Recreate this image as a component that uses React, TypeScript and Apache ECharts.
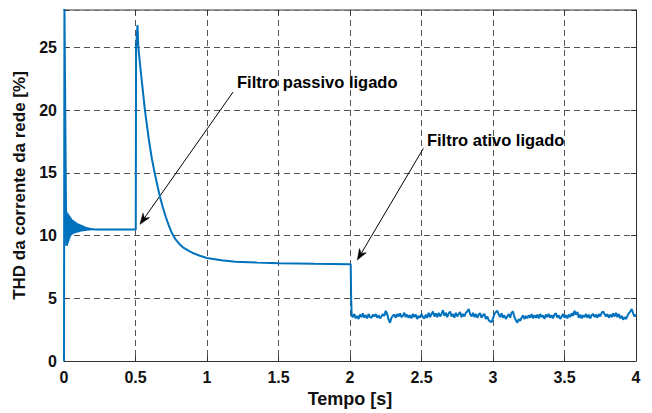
import React, { useEffect, useRef } from "react";
import * as echarts from "echarts";

// ---- data ----
const xTicks = [0, 0.5, 1, 1.5, 2, 2.5, 3, 3.5, 4];
const yTicks = [0, 5, 10, 15, 20, 25];

// start-up spike
const startupT = [0, 0.003, 0.016];
const startupV = [0, 28.5, 9.2];

// start-up ripple (alternating upper / lower swings)
const rippleStart = 0.018;
const rippleHalfStep = 0.003;
const rippleTop = [11.9, 11.8, 11.7, 11.6, 11.5, 11.4, 11.3, 11.25, 11.2, 11.15, 11.1, 11.05, 11.0, 10.97, 10.94, 10.91, 10.88, 10.85, 10.82, 10.79, 10.76, 10.73, 10.7, 10.68, 10.66, 10.64, 10.62, 10.6, 10.59, 10.58, 10.57, 10.56];
const rippleBottom = [9.2, 9.4, 9.6, 9.8, 9.95, 10.05, 10.1, 10.15, 10.18, 10.2, 10.22, 10.24, 10.26, 10.28, 10.3, 10.32, 10.33, 10.34, 10.35, 10.36, 10.37, 10.38, 10.39, 10.4, 10.41, 10.42, 10.43, 10.44, 10.45, 10.46, 10.47, 10.48];

// plateau, passive filter switching and decay
const decayT = [0.22, 0.502, 0.504, 0.514, 0.52, 0.535, 0.55, 0.566, 0.58, 0.594, 0.615, 0.636, 0.655, 0.671, 0.69, 0.71, 0.73, 0.753, 0.78, 0.81, 0.834, 0.87, 0.9, 0.95, 1.0, 1.1, 1.2, 1.35, 1.5, 1.75, 2.005, 2.008, 2.012];
const decayV = [10.5, 10.5, 25.0, 26.8, 25.0, 23.3, 21.7, 20.0, 18.8, 17.6, 16.1, 14.9, 13.9, 13.1, 12.3, 11.55, 10.9, 10.25, 9.7, 9.3, 9.05, 8.8, 8.62, 8.4, 8.22, 8.03, 7.92, 7.85, 7.8, 7.75, 7.72, 5.0, 3.6];

// active filter on: noisy steady state
const noiseStart = 2.02;
const noiseStep = 0.01;
const noiseV = [
  3.5, 3.75, 3.4, 3.6, 3.35, 3.7, 3.5, 3.8, 3.45, 3.65,
  3.4, 3.75, 3.5, 3.45, 3.7, 3.55, 3.75, 3.45, 3.65, 3.4,
  3.55, 3.75, 3.6, 4.0, 3.75, 3.3, 3.05, 3.45, 3.6, 3.7,
  3.45, 3.75, 3.55, 3.8, 3.5, 3.6, 3.85, 3.5, 3.7, 3.45,
  3.65, 3.4, 3.75, 3.5, 3.7, 3.35, 3.6, 3.45, 3.75, 3.5,
  3.4, 3.7, 3.45, 3.85, 3.5, 3.75, 3.95, 3.55, 3.8, 3.5,
  3.85, 3.55, 3.75, 4.05, 3.6, 3.85, 3.5, 3.8, 3.95, 3.55,
  3.75, 3.45, 3.85, 3.55, 3.75, 3.9, 3.5, 3.75, 3.55, 3.85,
  3.95, 4.15, 3.75, 3.55, 3.85, 3.5, 3.75, 3.45, 3.7, 3.8,
  3.45, 3.65, 3.75, 3.35, 3.55, 3.25, 3.15, 3.1, 3.4, 3.75,
  3.9, 4.0, 3.7, 3.5, 3.8, 3.45, 3.65, 3.35, 3.55, 3.75,
  3.45, 3.85, 3.95, 3.5, 3.25, 3.05, 3.35, 3.2, 3.45, 3.65,
  3.35, 3.6, 3.4, 3.65, 3.45, 3.75, 3.4, 3.65, 3.45, 3.7,
  3.4, 3.75, 3.5, 3.65, 3.35, 3.7, 3.5, 3.75, 3.45, 3.65,
  3.4, 3.7, 3.8, 3.45, 3.65, 3.35, 3.55, 3.75, 3.45, 3.65,
  3.4, 3.7, 3.5, 3.8, 3.6, 4.0, 3.7, 3.9, 3.45, 3.7,
  3.4, 3.65, 3.5, 3.75, 3.45, 3.7, 3.4, 3.65, 3.75, 3.5,
  3.7, 3.45, 3.75, 3.55, 3.85, 3.95, 3.75, 3.55, 3.75, 3.45,
  3.7, 3.5, 3.8, 3.55, 3.85, 3.5, 3.75, 3.4, 3.6, 3.3,
  3.5, 3.35, 3.6, 3.8, 3.95, 4.15, 3.8, 3.55, 3.7,
];

// annotations (data coordinates)
const annotationTexts = ["Filtro passivo ligado", "Filtro ativo ligado"];
const annotationAnchors = [[1.21, 22.25], [2.538, 17.62]];
const arrowFrom = [[1.182, 21.45], [2.513, 16.96]];
const arrowTo = [[0.531, 10.9], [2.051, 8.05]];

const FONT = "'Liberation Sans', Arial, Helvetica, sans-serif";

function buildData(): number[][] {
  const d: number[][] = [];
  startupT.forEach((t, i) => d.push([t, startupV[i]]));
  rippleTop.forEach((v, i) => {
    d.push([rippleStart + 2 * i * rippleHalfStep, v]);
    d.push([rippleStart + (2 * i + 1) * rippleHalfStep, rippleBottom[i]]);
  });
  decayT.forEach((t, i) => d.push([t, decayV[i]]));
  noiseV.forEach((v, i) => d.push([+(noiseStart + i * noiseStep).toFixed(3), v]));
  return d;
}

export default function App() {
  const ref = useRef<HTMLDivElement>(null);
  useEffect(() => {
    if (!ref.current) return;
    const chart = echarts.init(ref.current, undefined, { renderer: "svg" });
    const axisColor = "#333333";
    const gridLine = { show: true, lineStyle: { color: "#555555", type: [6, 4] as any, width: 1 } };
    const tickLabel = { fontFamily: FONT, fontWeight: "bold" as const, fontSize: 16, color: "#111" };
    chart.setOption({
      animation: false,
      backgroundColor: "#fff",
      grid: { left: 64, right: 16, top: 10, bottom: 52, containLabel: false },
      xAxis: [
        {
          type: "value", min: 0, max: 4, interval: 0.5,
          axisLine: { show: true, onZero: false, lineStyle: { color: axisColor, width: 1 } },
          axisTick: { show: true, inside: true, length: 5, lineStyle: { color: axisColor } },
          axisLabel: { ...tickLabel, margin: 8, formatter: (v: number) => (xTicks.includes(v) ? String(v) : "") },
          splitLine: gridLine,
          name: "Tempo [s]", nameLocation: "middle", nameGap: 28,
          nameTextStyle: { fontFamily: FONT, fontWeight: "bold", fontSize: 18, color: "#111" },
        },
        {
          type: "value", min: 0, max: 4, interval: 0.5, position: "top",
          axisLine: { show: true, onZero: false, lineStyle: { color: "#777", width: 1.5 } },
          axisTick: { show: true, inside: true, length: 5, lineStyle: { color: axisColor } },
          axisLabel: { show: false }, splitLine: { show: false },
        },
      ],
      yAxis: [
        {
          type: "value", min: 0, max: 28, interval: 5,
          axisLine: { show: true, onZero: false, lineStyle: { color: axisColor, width: 1 } },
          axisTick: { show: true, inside: true, length: 5, lineStyle: { color: axisColor } },
          axisLabel: { ...tickLabel, margin: 7, formatter: (v: number) => (yTicks.includes(v) ? String(v) : "") },
          splitLine: gridLine,
          name: "THD da corrente da rede [%]", nameLocation: "middle", nameGap: 33,
          nameTextStyle: { fontFamily: FONT, fontWeight: "bold", fontSize: 17, color: "#111" },
        },
        {
          type: "value", min: 0, max: 28, interval: 5, position: "right",
          axisLine: { show: true, onZero: false, lineStyle: { color: axisColor, width: 1 } },
          axisTick: { show: true, inside: true, length: 5, lineStyle: { color: axisColor } },
          axisLabel: { show: false }, splitLine: { show: false },
        },
      ],
      series: [
        {
          type: "line",
          xAxisIndex: 0, yAxisIndex: 0,
          data: buildData(),
          showSymbol: false, symbol: "none", clip: true,
          lineStyle: { color: "#0072BD", width: 2 },
          markPoint: {
            silent: true, symbol: "circle", symbolSize: 0,
            label: {
              show: true, position: "right", distance: 0,
              fontFamily: FONT, fontWeight: "bold", fontSize: 16.5, color: "#000",
              formatter: (p: any) => p.name,
            },
            data: annotationTexts.map((t, i) => ({ name: t, coord: annotationAnchors[i] })),
          },
        },
      ],
    });

    // arrows, positioned through the chart's own scales
    const elements: any[] = [];
    arrowFrom.forEach((f, i) => {
      const a = chart.convertToPixel({ gridIndex: 0 }, f) as number[];
      const b = chart.convertToPixel({ gridIndex: 0 }, arrowTo[i]) as number[];
      const dx = b[0] - a[0];
      const dy = b[1] - a[1];
      const len = Math.hypot(dx, dy);
      const ux = dx / len, uy = dy / len;
      const px = -uy, py = ux;
      const L = 11, W = 4;
      const base = [b[0] - ux * L, b[1] - uy * L];
      const notch = [b[0] - ux * L * 0.7, b[1] - uy * L * 0.7];
      elements.push({
        type: "line", silent: true,
        shape: { x1: a[0], y1: a[1], x2: notch[0], y2: notch[1] },
        style: { stroke: "#000", lineWidth: 1 },
      });
      elements.push({
        type: "polygon", silent: true,
        shape: {
          points: [
            [b[0], b[1]],
            [base[0] + px * W, base[1] + py * W],
            notch,
            [base[0] - px * W, base[1] - py * W],
          ],
        },
        style: { fill: "#000", stroke: "#000", lineWidth: 0.5 },
      });
    });
    chart.setOption({ graphic: elements });

    return () => chart.dispose();
  }, []);
  return <div ref={ref} style={{ width: 652, height: 413, position: "absolute", left: 0, top: 0 }} />;
}
